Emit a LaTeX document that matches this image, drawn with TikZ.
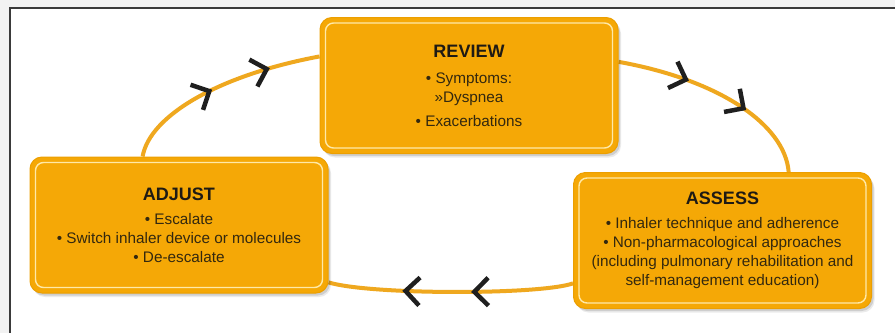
\documentclass[tikz,border=0pt]{standalone}
\usepackage{fontspec}
\setmainfont{Liberation Sans}
\usetikzlibrary{calc,decorations.markings,shadows}

\definecolor{cycleline}{HTML}{EFA81F}
\definecolor{stagefill}{HTML}{F5A806}
\definecolor{stageedge}{HTML}{EC9F00}
\definecolor{innerline}{HTML}{FFE9A8}
\definecolor{stagetext}{HTML}{33280F}
\definecolor{titletext}{HTML}{1E1A14}
\definecolor{chevcol}{HTML}{1F1F1F}
\definecolor{framecol}{HTML}{3A3A3A}

\pgfdeclarelayer{paper}
\pgfdeclarelayer{loop}
\pgfsetlayers{paper,loop,main}

\tikzset{
  stage/.style={rectangle, rounded corners=12pt, fill=stagefill, draw=stageedge,
    line width=1pt, minimum width=298pt, minimum height=136pt, align=center,
    text=stagetext, font=\fontsize{15.3}{19}\selectfont, inner sep=0pt,
    general shadow={shadow xshift=3pt, shadow yshift=-4pt, fill=black, opacity=0.08},
    general shadow={shadow xshift=2pt, shadow yshift=-2.5pt, fill=black, opacity=0.12}},
  innerframe/.style={draw=innerline, line width=1.4pt, rounded corners=8pt},
  loopline/.style={draw=cycleline, line width=4pt},
  chevline/.style={draw=chevcol, line width=4.5pt, line cap=butt, line join=miter},
  twochevrons/.style 2 args={postaction={decorate, decoration={markings,
      mark=at position #1 with {\draw[chevline] (-13,14) -- (1,0) -- (-13,-14);},
      mark=at position #2 with {\draw[chevline] (-13,14) -- (1,0) -- (-13,-14);}}}},
}
\newcommand\stagetitle[1]{{\fontsize{18}{19}\selectfont\bfseries\color{titletext}#1}}

\begin{document}
\begin{tikzpicture}[x=1pt,y=-1pt]
  \useasboundingbox (0,0) rectangle (895,333);

  % paper and frame
  \begin{pgfonlayer}{paper}
    \fill[black!5] (0,0) rectangle (895,333);
    \fill[white] (10,8) rectangle (895,333);
    \draw[framecol, line width=2pt] (895,8) -- (10,8) -- (10,333);
  \end{pgfonlayer}

  % the three stages
  \node[stage] (review) at (469,85.5) {\stagetitle{REVIEW}\\[7pt]
    • Symptoms:\\ »Dyspnea\\[5pt] • Exacerbations};
  \node[stage] (adjust) at (179,225) {\stagetitle{ADJUST}\\[5pt]
    • Escalate\\ • Switch inhaler device or molecules\\ • De-escalate};
  \node[stage] (assess) at (722.5,240.5) {\stagetitle{ASSESS}\\[5pt]
    • Inhaler technique and adherence\\ • Non-pharmacological approaches\\
    (including pulmonary rehabilitation and\\ self-management education)};

  % inner light borders
  \foreach \n in {review,adjust,assess}
    \draw[innerframe] ($(\n.north west)+(6,6)$) rectangle ($(\n.south east)+(-6,-6)$);

  % cycle connectors with chevrons
  \begin{pgfonlayer}{loop}
    \draw[loopline, twochevrons={0.45}{0.74}]
      (adjust.118.6) .. controls (150,115) and (220,75) .. (review.169.5);
    \draw[loopline, twochevrons={0.32}{0.62}]
      (review.9) .. controls (720,80) and (785,125) .. (assess.46.3);
    \draw[loopline, twochevrons={0.40}{0.68}]
      (assess.196.6) .. controls (540,295) and (370,295) .. (adjust.339.1);
  \end{pgfonlayer}
\end{tikzpicture}
\end{document}
